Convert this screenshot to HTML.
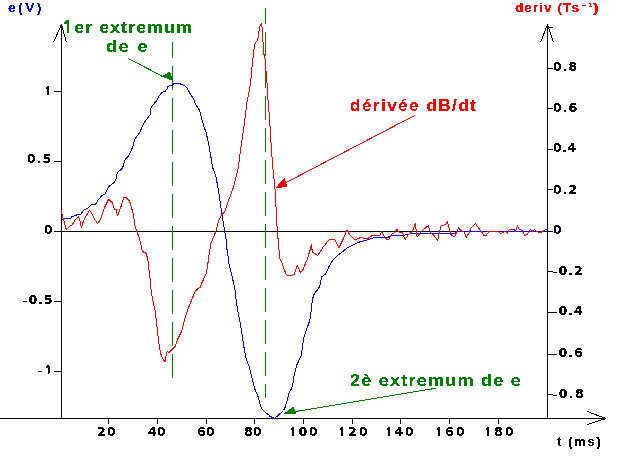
<!DOCTYPE html><html><head><meta charset="utf-8"><title>e(V) et deriv</title><style>html,body{margin:0;padding:0;background:#fff;width:640px;height:462px;overflow:hidden}svg{display:block}text{font-weight:bold}</style></head><body>
<svg width="640" height="462" viewBox="0 0 640 462">
<rect width="640" height="462" fill="#fff"/>
<defs><filter id="cr" x="0" y="0" width="1" height="1" color-interpolation-filters="sRGB"><feComponentTransfer><feFuncA type="discrete" tableValues="0 0 1 1 1"/></feComponentTransfer></filter></defs>
<path d="M61.5 418.5V24.5 M547.5 418.5V24.5 M0 418.5H605 M54 231.5H547 M54 91.5H61 M54 161.5H61 M54 231.5H61 M54 301.5H61 M54 371.5H61 M548 27.5H553 M548 68.5H553 M548 108.5H553 M548 149.5H553 M548 189.5H553 M548 231.5H553 M548 271.5H553 M548 312.5H553 M548 354.5H553 M548 394.5H553 M108.5 419V424 M157.5 419V424 M206.5 419V424 M254.5 419V424 M303.5 419V424 M352.5 419V424 M400.5 419V424 M449.5 419V424 M498.5 419V424 M61.5 24.5L53.5 42.5M61.5 24.5L66.5 42.5 M547.5 24.5L540.5 42.5M547.5 24.5L553.5 42.5 M605.5 418.5L587.5 411.5M605.5 418.5L587.5 424.5" stroke="#000" stroke-width="1" fill="none" shape-rendering="crispEdges"/>
<path d="M602 417h3v3h-3zM605 418h1v1h-1z" fill="#000" shape-rendering="crispEdges"/>
<path d="M172.5 42V58 M172.5 66V90 M172.5 98V122 M172.5 130V154 M172.5 162V186 M172.5 194V218 M172.5 226V250 M172.5 258V282 M172.5 290V314 M172.5 322V346 M172.5 354V378 M265.5 8V24 M265.5 32V56 M265.5 64V88 M265.5 96V120 M265.5 128V152 M265.5 160V184 M265.5 192V216 M265.5 224V248 M265.5 256V280 M265.5 288V312 M265.5 320V344 M265.5 352V376 M265.5 384V398" stroke="#008000" stroke-width="1" fill="none" shape-rendering="crispEdges"/>
<polyline points="61.5,220.5 64.9,218.4 70.6,218.4 72.3,216.2 75.3,215.8 77.5,214.5 80.9,214.5 81.8,212.7 84.4,209.7 87.4,208.4 91.3,204.5 95.7,204.1 97.4,201.5 98.2,200 101.5,196 104.7,194.3 106.9,190 109.1,186.2 112.3,184 115,181.4 116.6,177.6 117.2,172.7 118.8,171.1 121.5,169.5 123.1,166.2 124.2,161.9 125.3,159.2 128.5,155.9 131,151.2 132.8,146.4 134.5,139.9 135.7,138.1 138.7,133.9 140.5,131 141.7,127.4 143.5,123.8 146.5,119.6 150,114.9 150.6,111.9 151.2,106.5 152.4,105.4 155.9,101.8 157.4,99 158.6,96.3 162.1,92.4 165.2,91.2 166.8,89.3 167.6,86.9 169.5,85.4 172.3,85.2 174.2,83.4 179.7,83.4 181.3,84.6 184.4,85.4 186.7,87.7 189.1,91.6 190.6,94.8 192.6,97.1 193.8,99.4 195.1,103.2 197.7,107.8 199.7,110.4 201,115.6 202.3,120.8 204.2,127.3 206.2,132.5 207.5,139 208.8,144.2 209.4,149.4 210.7,155.8 211.4,159.7 212.5,166.9 216,177.3 217.7,186 219.5,196.4 220.8,206.8 222.1,215.5 223.8,225.9 224.7,231 226.1,239.1 226.8,248.2 228.3,257.3 229.1,264.8 231.4,273.9 232.9,280 234.7,287.6 235.8,297.2 237.5,309.3 239.7,320 241.9,333 244.1,348.1 246.2,358.9 249.5,367.6 251.6,376.2 254.9,389.2 258.1,396.8 261.4,408.6 264.6,411.9 268.9,415.1 270,416.3 274.2,418.4 276.3,417 283.5,410.5 284.6,408.5 285.6,406 286.5,402.5 287.5,400 287.9,397.3 289,393 291.8,388.1 293.2,381.8 293.9,376.1 295.4,370.5 296.8,364.9 298.9,360.6 301,355.7 302.1,349.3 303.9,337.1 305.6,332 308.2,325 309.9,319.8 310.8,314.6 311.6,306 312.5,299 314.2,293.9 317.7,289.5 319.8,286.1 321.6,276.9 325.9,273.6 329.2,266.1 332.4,260.7 337.8,255.3 342.2,252 347.6,247.7 354.1,244.5 358.4,242.3 364.9,240.6 371.4,238.4 377.1,237.1 388.4,237.1 391.2,235.4 403.1,235.4 411.6,233.3 455.2,233.3 458,231.5 547,231.5" stroke="#0000ff" stroke-width="1" fill="none" shape-rendering="crispEdges" stroke-linejoin="round"/>
<polyline points="61.5,210.2 61.5,213.6 62.3,214.5 63.2,218.4 64.5,222.7 66.2,229.2 68.4,227.5 70.6,225.3 72.3,224.9 74.9,220.1 78.3,216.6 80.1,221 81.4,227.5 83.5,221 84.8,218.4 89.2,210.6 90.9,211.9 93.9,217.9 97.4,223.6 100.4,219.7 102.3,214.3 104.7,207 108.6,199.3 112.5,203.1 114.5,210 115.9,209 117.4,215.8 118.4,213.9 121.3,205.6 123.7,197.3 125.7,197.3 129.6,201.2 131.5,207.5 133.5,215.3 134.9,226 137.4,232.8 139.5,238.7 142.4,251.4 146.3,253.4 148.3,262.1 149.2,271.9 150.2,280 151.3,291.7 152.7,299.5 155.2,311.2 156.6,322.9 158.5,340.4 160.5,353.1 162.4,358 165,361.9 166.3,355 167.3,351.2 168.8,353.1 171.2,350.2 175.1,346.3 178,338.5 181.9,330.7 184.8,319 188.7,307.3 192.6,297.5 195.6,290.7 198.5,288.2 200.3,287.6 201.8,283 206.4,273.2 207.9,263.3 209.4,252.7 210.9,243.6 213.2,237.6 216.2,230.8 218.6,220.7 221.2,215.5 224.7,212 227.3,204.2 230.7,194.7 233.3,187.7 235.9,177.3 238.5,166.9 239.8,155.2 243.3,131.4 245.7,112.4 246.9,102.9 249.3,91 251.4,75 252.3,63 253.6,53.3 254.3,46.2 255.6,42.9 256.9,41 258.2,37.1 259.5,27.3 260.5,25.4 261.4,23.4 261.8,24.7 262.3,30.6 263.1,42.9 263.6,54 264.7,55.3 265.3,62.4 266,70.8 267.1,83.8 268.3,105.2 269.5,117.1 270.7,138.6 271.9,155.2 273.1,170 274.9,187.1 275.9,204 276.7,221.8 277.7,234.8 278.8,247.8 279.9,258.6 282.1,262.9 284.2,269.4 286.4,274.8 288.6,275.9 294,274.8 297.2,265.1 300.5,272.7 302.6,270.5 307,259.7 310.2,249.9 311.3,244.5 312.4,252.1 317.8,255.3 320.8,250.7 322.7,247.7 329.2,239.5 334.6,239.5 338.9,247.7 343.2,239 347.1,229.8 349.7,234.7 355.1,240.1 360.5,237.5 364.9,238.4 367,239 372.4,235.4 379.9,235.4 381.8,231.6 384.1,236.1 387,239.6 389.1,238.9 391.9,234 394.7,232.6 396.8,229.1 398.9,231.9 402.4,232.6 405.2,239.6 408.8,234 412.3,231.9 415.1,223.4 417.2,236.8 420,233.3 424.2,229.1 428.4,225.5 430.6,233.3 434.1,235.4 437.6,240.3 441.1,225.5 445.3,224.8 447.4,222 450.9,234.7 454.5,236.8 458.7,227.7 461.5,231.2 464.2,231.9 466.3,237.5 469.1,232.6 471.3,227.7 475.5,223.4 478.3,227.7 481.1,231.2 483.9,235.4 486,235.4 488.8,231.9 498,231.6 500.8,233.3 503.6,232.6 505,231.2 507.1,233.3 509.2,229.8 514.1,229.8 515.6,231.2 517.4,225.5 519.1,229.1 521.9,230.2 524.7,235.4 526.8,234.7 530.3,229.3 532.4,231.2 534.5,229.3 536.7,231.6 540.2,233 543,230.8 546.5,229.1" stroke="#ff0000" stroke-width="1" fill="none" shape-rendering="crispEdges" stroke-linejoin="round"/>
<path d="M128 58.5L166 78" stroke="#008000" stroke-width="1" fill="none" shape-rendering="crispEdges"/>
<polygon points="170,71.5 171.2,75.8 173,76.8 173,81 161.5,76.5" fill="#008000" shape-rendering="crispEdges"/>
<path d="M435.8 388.3L295 411.6" stroke="#008000" stroke-width="1" fill="none" shape-rendering="crispEdges"/>
<polygon points="283.5,414 293.5,406.5 296.5,414" fill="#008000" shape-rendering="crispEdges"/>
<path d="M415 115.3L284 183.6" stroke="#ff0000" stroke-width="1" fill="none" shape-rendering="crispEdges"/>
<polygon points="275.5,188 284.5,177.5 287.5,187" fill="#ff0000" shape-rendering="crispEdges"/>
<g filter="url(#cr)">
<text transform="translate(8 12) scale(1.1 1)" fill="#0000ff" font-size="12.5" letter-spacing="2.258" text-anchor="start" font-family='"Liberation Sans", sans-serif' >e(V)</text>
<text transform="translate(515 12) scale(1.1 1)" fill="#ff0000" font-size="12.5" letter-spacing="0.887" text-anchor="start" font-family='"Liberation Sans", sans-serif' >deriv (Ts</text>
<text x="581" y="11" fill="#ff0000" font-size="10" letter-spacing="2.0" text-anchor="start" font-family='"DejaVu Sans", sans-serif' >⁻¹</text>
<text transform="translate(593 12) scale(1.4 1)" fill="#ff0000" font-size="12.5" letter-spacing="0" text-anchor="start" font-family='"Liberation Sans", sans-serif' >)</text>
<text transform="translate(62 33) scale(1.07 1)" fill="#008000" font-size="17" letter-spacing="0.861" text-anchor="start" font-family='"Liberation Sans", sans-serif' ><tspan font-family='NanumGothic, sans-serif' font-weight="800">1</tspan>er extremum</text>
<text transform="translate(106 52) scale(1.07 1)" fill="#008000" font-size="17" letter-spacing="1.623" text-anchor="start" font-family='"Liberation Sans", sans-serif' >de e</text>
<text transform="translate(350 111) scale(1.04 1)" fill="#ff0000" font-size="16.5" letter-spacing="1.369" text-anchor="start" font-family='"Liberation Sans", sans-serif' >dérivée dB/dt</text>
<text transform="translate(350 386) scale(1.07 1)" fill="#008000" font-size="17" letter-spacing="1.081" text-anchor="start" font-family='"Liberation Sans", sans-serif' >2è extremum de e</text>
<text transform="translate(557 446) scale(1.1 1)" fill="#000000" font-size="12.5" letter-spacing="1.173" text-anchor="start" font-family='"Liberation Sans", sans-serif' >t (ms)</text>
<text x="44" y="95" fill="#000000" font-size="12.5" letter-spacing="1" text-anchor="start" font-family='"DejaVu Sans", sans-serif' ><tspan font-family='NanumGothic, sans-serif' font-weight="800">1</tspan></text>
<text x="27" y="163" fill="#000000" font-size="12.5" letter-spacing="1.0" text-anchor="start" font-family='"DejaVu Sans", sans-serif' >0.5</text>
<text x="44" y="234" fill="#000000" font-size="12.5" letter-spacing="1" text-anchor="start" font-family='"DejaVu Sans", sans-serif' >0</text>
<text x="22" y="304" fill="#000000" font-size="12.5" letter-spacing="1.0" text-anchor="start" font-family='"DejaVu Sans", sans-serif' ><tspan font-weight="normal" font-size="11">–</tspan>0.5</text>
<text x="37" y="374" fill="#000000" font-size="12.5" letter-spacing="2.0" text-anchor="start" font-family='"DejaVu Sans", sans-serif' ><tspan font-weight="normal" font-size="11">–</tspan><tspan font-family='NanumGothic, sans-serif' font-weight="800">1</tspan></text>
<text x="97" y="436" fill="#000000" font-size="12.5" letter-spacing="1.3" text-anchor="start" font-family='"DejaVu Sans", sans-serif' >20</text>
<text x="148" y="436" fill="#000000" font-size="12.5" letter-spacing="0.3" text-anchor="start" font-family='"DejaVu Sans", sans-serif' >40</text>
<text x="197" y="436" fill="#000000" font-size="12.5" letter-spacing="0.3" text-anchor="start" font-family='"DejaVu Sans", sans-serif' >60</text>
<text x="244" y="436" fill="#000000" font-size="12.5" letter-spacing="0.3" text-anchor="start" font-family='"DejaVu Sans", sans-serif' >80</text>
<text x="289" y="436" fill="#000000" font-size="12.5" letter-spacing="1.8" text-anchor="start" font-family='"DejaVu Sans", sans-serif' ><tspan font-family='NanumGothic, sans-serif' font-weight="800">1</tspan>00</text>
<text x="338" y="436" fill="#000000" font-size="12.5" letter-spacing="2.3" text-anchor="start" font-family='"DejaVu Sans", sans-serif' ><tspan font-family='NanumGothic, sans-serif' font-weight="800">1</tspan>20</text>
<text x="385" y="436" fill="#000000" font-size="12.5" letter-spacing="1.8" text-anchor="start" font-family='"DejaVu Sans", sans-serif' ><tspan font-family='NanumGothic, sans-serif' font-weight="800">1</tspan>40</text>
<text x="435" y="436" fill="#000000" font-size="12.5" letter-spacing="2.3" text-anchor="start" font-family='"DejaVu Sans", sans-serif' ><tspan font-family='NanumGothic, sans-serif' font-weight="800">1</tspan>60</text>
<text x="484" y="436" fill="#000000" font-size="12.5" letter-spacing="2.3" text-anchor="start" font-family='"DejaVu Sans", sans-serif' ><tspan font-family='NanumGothic, sans-serif' font-weight="800">1</tspan>80</text>
<text x="553" y="71" fill="#000000" font-size="12.5" letter-spacing="1.0" text-anchor="start" font-family='"DejaVu Sans", sans-serif' >0.8</text>
<text x="553" y="112" fill="#000000" font-size="12.5" letter-spacing="1.0" text-anchor="start" font-family='"DejaVu Sans", sans-serif' >0.6</text>
<text x="553" y="152" fill="#000000" font-size="12.5" letter-spacing="0.5" text-anchor="start" font-family='"DejaVu Sans", sans-serif' >0.4</text>
<text x="553" y="194" fill="#000000" font-size="12.5" letter-spacing="1.0" text-anchor="start" font-family='"DejaVu Sans", sans-serif' >0.2</text>
<text x="553" y="234" fill="#000000" font-size="12.5" letter-spacing="1" text-anchor="start" font-family='"DejaVu Sans", sans-serif' >0</text>
<text x="552" y="275" fill="#000000" font-size="12.5" letter-spacing="1.0" text-anchor="start" font-family='"DejaVu Sans", sans-serif' ><tspan font-weight="normal" font-size="11">–</tspan>0.2</text>
<text x="552" y="315" fill="#000000" font-size="12.5" letter-spacing="1.0" text-anchor="start" font-family='"DejaVu Sans", sans-serif' ><tspan font-weight="normal" font-size="11">–</tspan>0.4</text>
<text x="552" y="357" fill="#000000" font-size="12.5" letter-spacing="1.0" text-anchor="start" font-family='"DejaVu Sans", sans-serif' ><tspan font-weight="normal" font-size="11">–</tspan>0.6</text>
<text x="552" y="398" fill="#000000" font-size="12.5" letter-spacing="1.333" text-anchor="start" font-family='"DejaVu Sans", sans-serif' ><tspan font-weight="normal" font-size="11">–</tspan>0.8</text>
</g>
</svg></body></html>
